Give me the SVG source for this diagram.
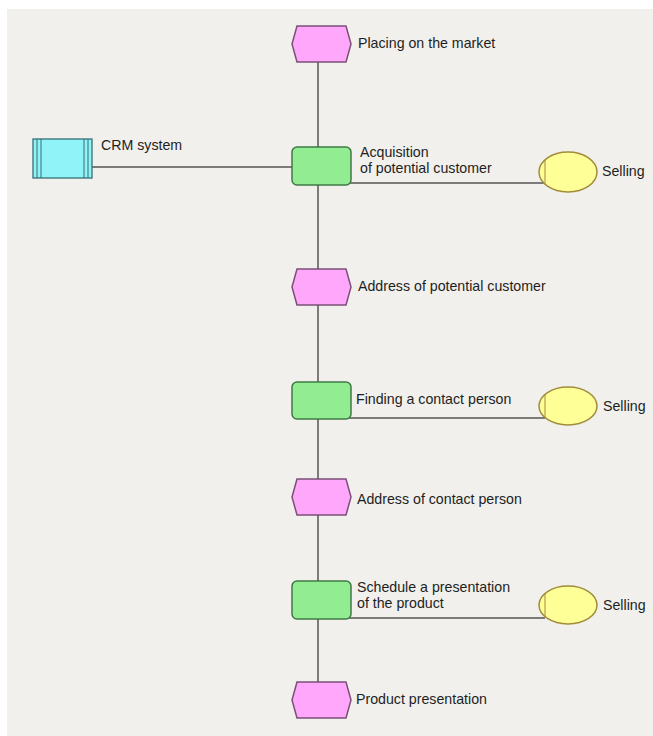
<svg xmlns="http://www.w3.org/2000/svg" width="653" height="736" viewBox="0 0 653 736">
  <style>
    .lbl { font-family: "Liberation Sans", Arial, sans-serif; font-size: 14.2px; fill: #1e1e1e; }
    .event { fill: #ffa8fb; stroke: #7b4f78; stroke-width: 1.5; }
    .func { fill: #92ec92; stroke: #3f7a45; stroke-width: 1.5; }
    .org { fill: #ffff98; stroke: #a08c3a; stroke-width: 1.5; }
    .sys { fill: #8ff3f8; stroke: #356f74; stroke-width: 1.3; }
    .edge { stroke: #555; stroke-width: 1.5; fill: none; }
  </style>
  <defs>
    <polygon id="hex" points="5,0 54,0 59,18 54,36 5,36 0,18"/>
  </defs>

  <rect x="0" y="0" width="653" height="736" fill="#ffffff"/>
  <rect x="7" y="9" width="646" height="727" fill="#f1f0ec"/>

  <g id="connectors">
    <line class="edge" x1="318" y1="62" x2="318" y2="147"/>
    <line class="edge" x1="318" y1="185" x2="318" y2="269"/>
    <line class="edge" x1="318" y1="305" x2="318" y2="382"/>
    <line class="edge" x1="318" y1="419" x2="318" y2="479"/>
    <line class="edge" x1="318" y1="515" x2="318" y2="581"/>
    <line class="edge" x1="318" y1="619" x2="318" y2="682"/>
    <line class="edge" x1="92" y1="167" x2="292" y2="167"/>
    <line class="edge" x1="348" y1="183" x2="545" y2="183"/>
    <line class="edge" x1="348" y1="418" x2="545" y2="418"/>
    <line class="edge" x1="348" y1="618" x2="545" y2="618"/>
  </g>

  <g id="ev-placing">
    <use href="#hex" class="event" x="292" y="26"/>
    <text class="lbl" x="358" y="48">Placing on the market</text>
  </g>

  <g id="sys-crm">
    <rect class="sys" x="33" y="139" width="59" height="39"/>
    <line x1="37" y1="139" x2="37" y2="178" stroke="#356f74" stroke-width="1"/>
    <line x1="41" y1="139" x2="41" y2="178" stroke="#356f74" stroke-width="1"/>
    <line x1="84" y1="139" x2="84" y2="178" stroke="#356f74" stroke-width="1"/>
    <line x1="88" y1="139" x2="88" y2="178" stroke="#356f74" stroke-width="1"/>
    <text class="lbl" x="101" y="150">CRM system</text>
  </g>

  <g id="fn-acquisition">
    <rect class="func" x="292" y="147" width="59" height="38" rx="5"/>
    <text class="lbl" x="360" y="157">Acquisition</text>
    <text class="lbl" x="360" y="173">of potential customer</text>
  </g>

  <g id="org-selling-1">
    <ellipse class="org" cx="568" cy="172" rx="29" ry="20"/>
    <line x1="545" y1="160" x2="545" y2="184" stroke="#a08c3a" stroke-width="1"/>
    <text class="lbl" x="602" y="176">Selling</text>
  </g>

  <g id="ev-address-customer">
    <use href="#hex" class="event" x="292" y="269"/>
    <text class="lbl" x="358" y="291">Address of potential customer</text>
  </g>

  <g id="fn-finding">
    <rect class="func" x="292" y="382" width="59" height="37" rx="5"/>
    <text class="lbl" x="356" y="404">Finding a contact person</text>
  </g>

  <g id="org-selling-2">
    <ellipse class="org" cx="568" cy="406" rx="29" ry="19"/>
    <line x1="545" y1="394" x2="545" y2="418" stroke="#a08c3a" stroke-width="1"/>
    <text class="lbl" x="603" y="411">Selling</text>
  </g>

  <g id="ev-address-contact">
    <use href="#hex" class="event" x="292" y="479"/>
    <text class="lbl" x="357" y="504">Address of contact person</text>
  </g>

  <g id="fn-schedule">
    <rect class="func" x="292" y="581" width="59" height="38" rx="5"/>
    <text class="lbl" x="357" y="592">Schedule a presentation</text>
    <text class="lbl" x="357" y="608">of the product</text>
  </g>

  <g id="org-selling-3">
    <ellipse class="org" cx="568" cy="605" rx="29" ry="19"/>
    <line x1="545" y1="593" x2="545" y2="617" stroke="#a08c3a" stroke-width="1"/>
    <text class="lbl" x="603" y="610">Selling</text>
  </g>

  <g id="ev-presentation">
    <use href="#hex" class="event" x="292" y="682"/>
    <text class="lbl" x="356" y="704">Product presentation</text>
  </g>
</svg>
